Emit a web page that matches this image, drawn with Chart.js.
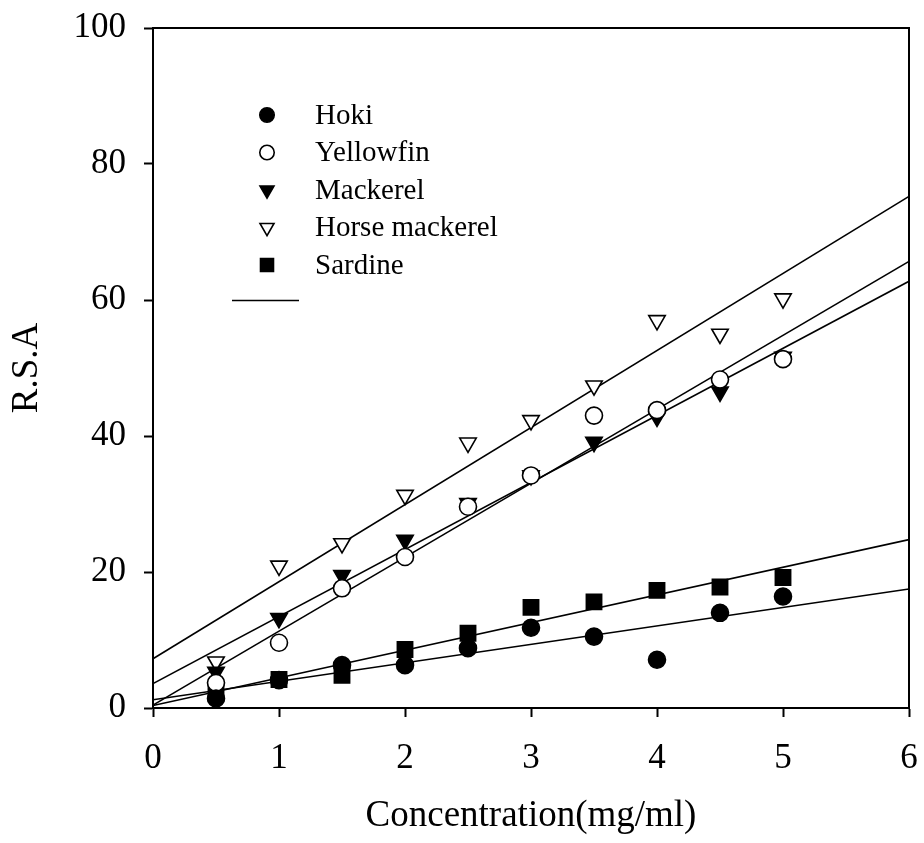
<!DOCTYPE html>
<html>
<head>
<meta charset="utf-8">
<script src="https://cdn.jsdelivr.net/npm/chart.js@4/dist/chart.umd.min.js"></script>
<style>
  html, body { margin: 0; padding: 0; background: #fff; }
  #c { display: block; }
</style>
</head>
<body>
<canvas id="c" width="924" height="843"></canvas>
<script>
// concentration (mg/ml) and R.S.A per species
const concentrations = [0.5, 1, 1.5, 2, 2.5, 3, 3.5, 4, 4.5, 5];
const hoki          = [1.4, 4.1, 6.3, 6.3, 8.8, 11.8, 10.5, 7.1, 14.0, 16.4];
const yellowfin     = [3.7, 9.6, 17.6, 22.2, 29.6, 34.2, 43.0, 43.8, 48.3, 51.3];
const mackerel      = [5.3, 13.2, 19.5, 24.7, 30.1, 34.2, 39.1, 42.8, 46.5, 51.6];
const horseMackerel = [6.8, 20.9, 24.2, 31.3, 39.0, 42.3, 47.4, 57.0, 55.0, 60.2];
const sardine       = [2.2, 4.2, 4.8, 8.6, 11.0, 14.8, 15.6, 17.3, 17.8, 19.2];

const xTicks = [0, 1, 2, 3, 4, 5, 6];
const yTicks = [0, 20, 40, 60, 80, 100];

const FONT = "'Liberation Serif', 'Times New Roman', serif";

// least squares line, drawn over the full x range like the original
function linearFit(xs, ys) {
  const n = xs.length;
  const mx = xs.reduce((a, b) => a + b, 0) / n;
  const my = ys.reduce((a, b) => a + b, 0) / n;
  let sxy = 0, sxx = 0;
  for (let i = 0; i < n; i++) {
    sxy += (xs[i] - mx) * (ys[i] - my);
    sxx += (xs[i] - mx) * (xs[i] - mx);
  }
  const slope = sxy / sxx;
  const b = my - slope * mx;
  const x0 = xTicks[0], x1 = xTicks[xTicks.length - 1];
  return [{x: x0, y: b + slope * x0}, {x: x1, y: b + slope * x1}];
}

const series = [
  {label: 'Hoki',           data: hoki,          style: 'circle',   fill: '#000', radius: 8.5, rot: 0},
  {label: 'Yellowfin',      data: yellowfin,     style: 'circle',   fill: '#fff', radius: 8.5, rot: 0},
  {label: 'Mackerel',       data: mackerel,      style: 'triangle', fill: '#000', radius: 9.5, rot: 180},
  {label: 'Horse mackerel', data: horseMackerel, style: 'triangle', fill: '#fff', radius: 9.5, rot: 180},
  {label: 'Sardine',        data: sardine,       style: 'rect',     fill: '#000', radius: 10.8, rot: 0},
];

const datasets = [];
series.forEach(s => {
  datasets.push({
    type: 'scatter',
    label: s.label,
    data: concentrations.map((x, i) => ({x: x, y: s.data[i]})),
    pointStyle: s.style,
    pointRotation: s.rot,
    pointRadius: s.radius,
    pointBackgroundColor: s.fill,
    pointBorderColor: '#000',
    pointBorderWidth: 1.6,
    order: 0
  });
  datasets.push({
    type: 'line',
    label: s.label + ' fit',
    data: linearFit(concentrations, s.data),
    borderColor: '#000',
    borderWidth: 1.6,
    pointRadius: 0,
    fill: false,
    order: 1
  });
});

// legend drawn inside the plot, top left, plus the line sample below it
const legendPlugin = {
  id: 'insideLegend',
  afterDatasetsDraw(chart) {
    const ctx = chart.ctx;
    const mx = 267, tx = 315, y0 = 115, step = 37.5;
    ctx.save();
    ctx.font = '29px ' + FONT;
    ctx.textBaseline = 'middle';
    ctx.textAlign = 'left';
    series.forEach((s, i) => {
      const y = y0 + i * step;
      ctx.fillStyle = s.fill;
      ctx.strokeStyle = '#000';
      ctx.lineWidth = 1.6;
      Chart.helpers.drawPoint(ctx, {
        pointStyle: s.style,
        rotation: s.rot,
        radius: s.radius * 0.85,
        borderWidth: 1.6
      }, mx, y);
      ctx.fillStyle = '#000';
      ctx.fillText(s.label, tx, y + 1);
    });
    ctx.strokeStyle = '#000';
    ctx.lineWidth = 1.6;
    ctx.beginPath();
    ctx.moveTo(232, 300.5);
    ctx.lineTo(299, 300.5);
    ctx.stroke();
    ctx.restore();
  }
};

// top and right sides of the frame
const framePlugin = {
  id: 'frame',
  afterDraw(chart) {
    const a = chart.chartArea;
    const ctx = chart.ctx;
    ctx.save();
    ctx.strokeStyle = '#000';
    ctx.lineWidth = 2;
    ctx.beginPath();
    ctx.moveTo(a.left, a.top);
    ctx.lineTo(a.right, a.top);
    ctx.lineTo(a.right, a.bottom);
    ctx.stroke();
    ctx.restore();
  }
};

function noPad(s) {
  s.paddingLeft = 0; s.paddingRight = 0; s.paddingTop = 0; s.paddingBottom = 0;
}

new Chart(document.getElementById('c'), {
  type: 'scatter',
  data: {datasets: datasets},
  options: {
    responsive: false,
    animation: false,
    events: [],
    layout: {padding: {left: 0, top: 28, right: 15, bottom: 0}},
    plugins: {legend: {display: false}, tooltip: {enabled: false}},
    scales: {
      x: {
        type: 'linear',
        min: xTicks[0],
        max: xTicks[xTicks.length - 1],
        afterBuildTicks: s => { s.ticks = xTicks.map(v => ({value: v})); },
        afterFit: s => { s.height = 843 - 708; noPad(s); },
        border: {display: true, color: '#000', width: 2},
        grid: {drawOnChartArea: false, drawTicks: true, tickLength: 9, tickWidth: 2, tickColor: '#000'},
        ticks: {color: '#000', font: {family: FONT, size: 35}, padding: 21, maxRotation: 0},
        title: {display: true, text: 'Concentration(mg/ml)', color: '#000',
                font: {family: FONT, size: 37, lineHeight: 1}, padding: {top: 0, bottom: 8}}
      },
      y: {
        type: 'linear',
        min: yTicks[0],
        max: yTicks[yTicks.length - 1],
        afterBuildTicks: s => { s.ticks = yTicks.map(v => ({value: v})); },
        afterFit: s => { s.width = 153; noPad(s); },
        border: {display: true, color: '#000', width: 2},
        grid: {drawOnChartArea: false, drawTicks: true, tickLength: 9, tickWidth: 2, tickColor: '#000'},
        ticks: {color: '#000', font: {family: FONT, size: 35}, padding: 18},
        title: {display: true, text: 'R.S.A', color: '#000',
                font: {family: FONT, size: 37, lineHeight: 1}, padding: {top: 9, bottom: 0}}
      }
    }
  },
  plugins: [legendPlugin, framePlugin]
});
</script>
</body>
</html>
